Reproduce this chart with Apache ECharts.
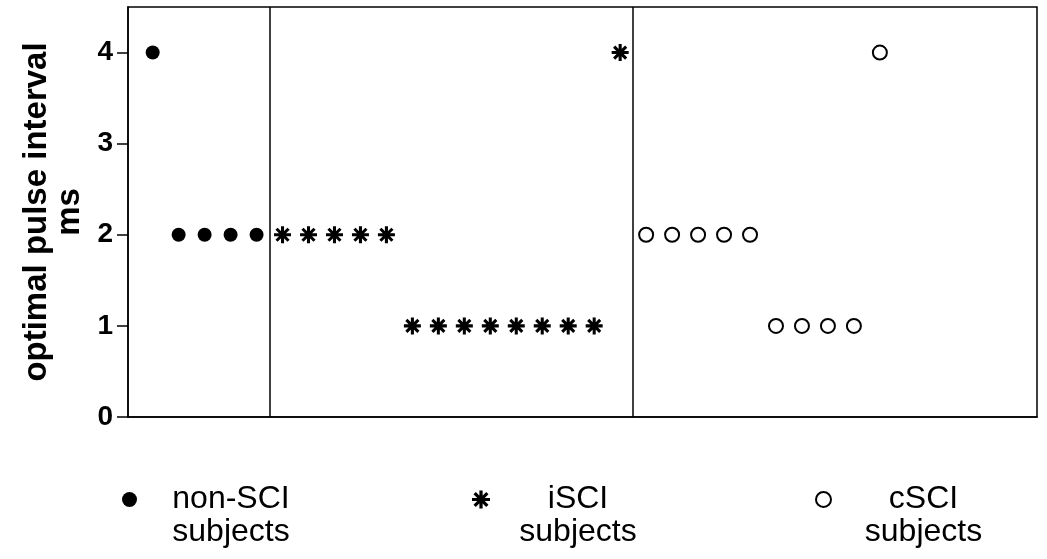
<!DOCTYPE html>
<html>
<head>
<meta charset="utf-8">
<script src="https://cdn.jsdelivr.net/npm/echarts@6/dist/echarts.min.js"></script>
<style>
  html, body { margin: 0; padding: 0; background: #fff; }
  #chart { width: 1047px; height: 559px; }
</style>
</head>
<body>
<div id="chart"></div>
<script>
// One column per subject along the horizontal axis
const nonSciX = [1, 2, 3, 4, 5];
const nonSciY = [4, 2, 2, 2, 2];

const iSciX = [6, 7, 8, 9, 10, 11, 12, 13, 14, 15, 16, 17, 18, 19];
const iSciY = [2, 2, 2, 2, 2, 1, 1, 1, 1, 1, 1, 1, 1, 4];

const cSciX = [20, 21, 22, 23, 24, 25, 26, 27, 28, 29];
const cSciY = [2, 2, 2, 2, 2, 1, 1, 1, 1, 4];

// Vertical separators between the three groups
const groupDividers = [5.5, 19.5];

const yTicks = [0, 1, 2, 3, 4];
const groupNames = ['non-SCI', 'iSCI', 'cSCI'];
const legendSubtitle = 'subjects';

const FONT = 'Liberation Sans, Arial, Helvetica, sans-serif';

// Eight-armed asterisk marker (vertical, horizontal and two diagonal bars)
const ASTERISK = 'path://M41 0H59V100H41Z M0 41H100V59H0Z ' +
  'M21.0 8.3L91.7 79.0L79.0 91.7L8.3 21.0Z ' +
  'M79.0 8.3L91.7 21.0L21.0 91.7L8.3 79.0Z';

function pairs(xs, ys) {
  return xs.map((x, i) => [x, ys[i]]);
}

function legendFor(name, left, iconSize, textWidth, iconStyle) {
  return {
    data: [name],
    left: left,
    top: 450,
    padding: 0,
    orient: 'horizontal',
    itemWidth: iconSize,
    itemHeight: iconSize,
    selectedMode: false,
    itemStyle: iconStyle || {},
    formatter: n => '{a|' + n + '}\n{a|' + legendSubtitle + '}',
    textStyle: {
      color: '#000',
      fontFamily: FONT,
      fontSize: 32,
      lineHeight: 33,
      padding: [33, 0, 0, 0],
      rich: {
        a: { width: textWidth, align: 'center', fontFamily: FONT, fontSize: 32, lineHeight: 33, color: '#000' }
      }
    }
  };
}

const chart = echarts.init(document.getElementById('chart'), null, { renderer: 'canvas' });

chart.setOption({
  animation: false,
  backgroundColor: '#fff',
  grid: {
    left: 128,
    right: 10,
    top: 7,
    bottom: 142,
    show: true,
    borderColor: '#000',
    borderWidth: 1.5,
    backgroundColor: 'transparent'
  },
  legend: [
    legendFor(groupNames[0], 122, 15, 178),
    legendFor(groupNames[1], 472, 18, 166),
    legendFor(groupNames[2], 815, 15, 175, { borderWidth: 2 })
  ],
  xAxis: {
    type: 'value',
    min: 0.05,
    max: 35.05,
    axisLine: { show: true, lineStyle: { color: '#000', width: 1.5 } },
    axisTick: { show: false },
    axisLabel: { show: false },
    splitLine: { show: false }
  },
  yAxis: {
    type: 'value',
    min: 0,
    max: 4.5,
    interval: 1,
    name: 'optimal pulse interval\nms',
    nameLocation: 'middle',
    nameRotate: 90,
    nameGap: 38,
    nameTextStyle: {
      color: '#000',
      fontFamily: FONT,
      fontSize: 33,
      fontWeight: 'bold',
      lineHeight: 33,
      align: 'center'
    },
    axisLine: { show: true, lineStyle: { color: '#000', width: 1.5 } },
    axisTick: {
      show: true,
      length: 11,
      inside: false,
      customValues: yTicks,
      lineStyle: { color: '#000', width: 1.5 }
    },
    axisLabel: {
      show: true,
      margin: 15,
      customValues: yTicks,
      color: '#000',
      fontFamily: FONT,
      fontSize: 28,
      fontWeight: 'bold'
    },
    splitLine: { show: false }
  },
  series: [
    {
      name: groupNames[0],
      type: 'scatter',
      symbol: 'circle',
      symbolSize: 14,
      itemStyle: { color: '#000', opacity: 1 },
      data: pairs(nonSciX, nonSciY),
      z: 3,
      markLine: {
        silent: true,
        symbol: ['none', 'none'],
        label: { show: false },
        lineStyle: { color: '#000', width: 1.5, type: 'solid' },
        data: groupDividers.map(x => ({ xAxis: x }))
      }
    },
    {
      name: groupNames[1],
      type: 'scatter',
      symbol: ASTERISK,
      symbolSize: 17,
      itemStyle: { color: '#000', opacity: 1 },
      data: pairs(iSciX, iSciY),
      z: 3
    },
    {
      name: groupNames[2],
      type: 'scatter',
      symbol: 'circle',
      symbolSize: 14,
      itemStyle: { color: '#fff', borderColor: '#000', borderWidth: 2, opacity: 1 },
      data: pairs(cSciX, cSciY),
      z: 3
    }
  ]
});
</script>
</body>
</html>
